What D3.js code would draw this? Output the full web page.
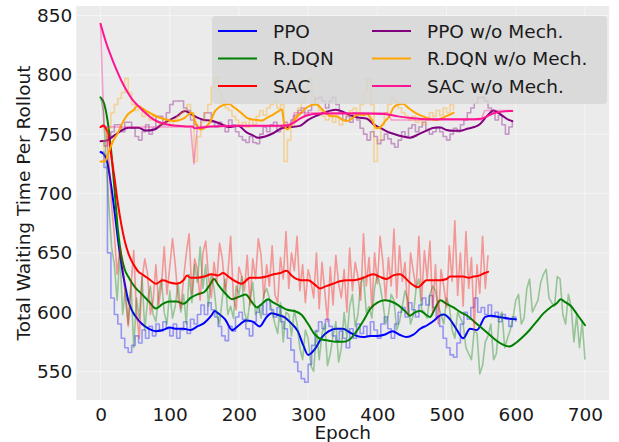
<!DOCTYPE html>
<html>
<head>
<meta charset="utf-8">
<script src="https://cdn.jsdelivr.net/npm/d3@7"></script>
<style>
  body { margin: 0; background: #fff; }
  svg { display: block; }
  text { font-family: "DejaVu Sans", sans-serif; fill: #1a1a1a; }
</style>
</head>
<body>
<svg id="chart" width="619" height="442"></svg>
<script>
// ---- tick labels ----
const xTicks = [0, 100, 200, 300, 400, 500, 600, 700];
const yTicks = [550, 600, 650, 700, 750, 800, 850];

// ---- raw per-epoch curves (sampled every rawStep epochs from epoch 0) ----
const ppoRawStep = 5;
const ppoRaw = [735,722,650,612,598,590,578,570,566,572,580,574,585,578,588,580,590,584,592,586,
  580,590,578,585,592,582,594,590,598,606,598,608,602,596,588,580,576,588,584,596,
  600,594,586,580,592,600,606,598,610,602,596,604,592,586,578,568,558,550,544,541,
  556,572,584,592,586,594,588,580,576,584,578,570,586,578,590,582,588,580,592,585,
  578,590,596,586,578,590,600,604,596,608,602,596,606,612,606,614,604,596,588,578,
  570,564,562,574,590,600,594,604,612,600,604,598,606,596,600,592,598,594,588,596,592];

const rdqnRawStep = 4;
const rdqnRaw = [781,770,730,690,655,640,610,650,598,620,
  590,625,570,612,595,630,585,610,622,598,
  592,615,628,600,590,618,595,605,625,600,
  615,590,632,608,640,625,655,620,640,605,
  632,620,598,590,612,628,598,605,595,622,
  615,630,600,592,610,625,598,605,595,615,
  620,612,600,590,582,608,575,600,598,580,
  602,590,570,560,585,578,555,550,585,560,
  582,590,555,565,580,592,558,570,600,578,
  605,615,588,598,625,630,600,605,595,620,
  632,622,608,590,598,615,610,585,592,605,
  618,610,590,598,620,628,602,600,595,615,
  622,618,605,598,590,612,605,585,578,600,
  595,590,570,565,560,585,582,548,555,575,
  580,590,560,565,595,600,570,578,585,595,
  610,615,590,595,620,628,600,605,610,625,
  632,636,612,608,605,630,628,598,590,615,
  605,575,598,570,592,560];

const sacRawStep = 4;
const sacRaw = [757,758,752,728,690,665,632,655,640,612,
  588,622,652,600,578,628,645,632,598,610,
  640,606,622,655,615,638,662,640,612,603,
  628,650,666,615,645,636,610,650,660,630,
  612,642,625,658,645,618,632,664,612,602,
  638,630,618,648,606,645,628,662,648,612,
  640,622,656,615,608,646,628,668,620,650,
  635,664,618,640,608,636,626,612,650,603,
  642,618,592,638,606,648,624,612,636,600,
  654,618,642,630,610,666,622,646,604,650,
  624,664,642,610,646,622,670,612,656,626,
  642,598,650,634,620,664,610,652,628,660,
  600,640,590,636,622,604,656,626,677,614,
  650,605,668,620,646,585,640,616,664,620,
  648];

const ppoWoRawStep = 5;
const ppoWoRaw = [744,740,748,752,758,758,752,760,760,755,748,745,752,758,750,755,765,765,758,768,
  775,778,778,778,772,770,762,758,755,762,768,768,760,756,760,758,752,762,758,752,
  748,745,743,748,743,742,750,756,752,758,760,752,756,760,758,762,766,770,772,766,
  770,775,780,781,778,772,778,781,775,768,762,765,760,768,762,755,750,745,752,748,
  742,745,750,746,742,739,745,752,748,755,758,752,756,760,754,750,752,756,752,748,
  745,750,755,752,758,762,768,772,776,781,781,778,772,768,762,766,758,750,756,762];

const rdqnWoRawStep = 5;
const rdqnWoRaw = [727,745,755,768,775,780,785,797,785,775,770,772,765,768,762,765,760,758,760,762,
  758,762,765,768,770,775,768,727,748,760,768,775,790,798,785,778,772,770,765,762,
  758,760,756,762,758,765,770,766,772,775,778,772,775,727,745,758,765,772,778,785,
  797,782,775,770,765,762,766,760,764,758,762,766,770,772,768,775,785,797,775,727,
  745,758,768,775,780,778,772,768,765,762,765,760,762,758,762,768,765,770,766,772,
  768,775,770];

const sacWoRawStep = 5;
const sacWoRaw = [843,756,756,756,756,756,756,756,756,756,756,756,756,756,756,756,756,756,756,756,
  756,756,756,756,756,756,756,725,756.5,756.5,756.5,756.5,756.5,756.5,756.5,756.5,756.5,756.5,756.5,756.5,
  756.5,756.5,756.5,756.5,756.5,756.5,756.5,756.5,756.5,756.5,756.5,756.5,756.5,756.5,756.5,756.5,768,768,768,768,
  768,768,768,768,768,768,768,768,768,768,768,768,768,768,768,768,768,768,768,768,
  768,768,768,768,762,762,762,762,762,762,762,762,762,762,762,762,762,762,762,762,
  762,762,762,762,762,762,762,762,762,762,762,770,770,770,770,770,770,770,770,770];

// ---- smoothed curves, [epoch, value] ----
const ppoSmooth = [[0,735],[5,733],[10,726],[15,708],[20,686],[25,662],[30,641],[35,624],[40,610],[45,602],
  [50,597],[60,590],[70,586],[80,584],[90,585],[100,587],[110,586],[120,586],[130,585],[140,588],
  [150,591],[160,597],[165,601],[170,599],[180,594],[190,585],[200,589],[210,593],[220,592],[230,588],
  [240,596],[247,599],[255,598],[265,596],[275,591],[285,584],[293,572],[300,564],[310,569],[320,579],
  [330,584],[340,586],[350,586],[360,583],[370,580],[380,579],[390,580],[400,580],[410,581],[422,584],
  [432,581],[442,579],[452,581],[462,586],[472,589],[482,593],[490,597],[496,598],[505,594],[515,585],
  [524,578],[534,586],[544,585],[556,596],[565,597],[575,596],[585,595],[600,594]];

const rdqnSmooth = [[0,781],[5,776],[10,762],[15,738],[20,705],[25,670],[30,648],[35,636],[40,630],[45,625],
  [50,621],[60,615],[70,609],[80,603],[90,607],[100,609],[110,609],[120,607],[130,612],[140,615],
  [150,617],[158,623],[164,628],[170,623],[180,616],[190,611],[200,613],[210,615],[218,609],[226,604],
  [235,608],[242,611],[250,608],[260,605],[270,602],[280,601],[290,598],[300,590],[310,581],[320,577],
  [330,576],[340,575],[350,575],[360,577],[370,584],[380,593],[390,603],[400,608],[410,610],[420,609],
  [430,606],[440,601],[447,597],[455,600],[462,601],[470,598],[476,596],[484,604],[491,610],[500,607],
  [510,604],[520,600],[530,597],[540,592],[550,587],[560,582],[570,577],[580,573],[590,571],[600,574],
  [610,579],[620,585],[630,592],[640,599],[650,604],[660,608],[665,611],[670,609],[680,605],[690,597],[700,589]];

const sacSmooth = [[0,756],[5,757],[8,755],[12,748],[16,730],[20,714],[25,692],[30,674],[35,660],[40,650],
  [45,643],[50,638],[55,634],[60,632],[70,628],[80,624],[90,627],[100,625],[110,624],[120,627],
  [125,631],[130,629],[140,629],[150,630],[160,632],[170,631],[177,633],[185,630],[192,627],[204,624],
  [216,629],[230,629],[240,630],[250,632],[260,633],[269,635],[276,631],[283,628],[290,627],[300,627],
  [310,623],[317,620],[326,622],[336,624],[346,626],[356,627],[366,627],[380,629],[394,632],[403,630],
  [413,628],[423,631],[433,632],[440,629],[447,625],[459,621],[465,624],[471,627],[480,627],[491,627],
  [500,628],[505,630],[515,630],[524,630],[532,629],[539,630],[548,631],[555,633],[560,634]];

const ppoWoSmooth = [[0,744],[10,745],[20,749],[30,753],[40,755.5],[55,755.5],[65,753],[78,754],[88,758],[100,762],
  [110,765],[122,769.5],[131,767],[140,764],[150,762],[160,761.5],[172,759],[185,756],[199,757],[210,752],
  [220,749],[228,747],[238,748],[250,751],[262,755],[274,756],[288,757],[300,762],[312,765.5],[325,768.5],
  [340,770.5],[350,769],[360,766],[372,764],[385,763],[395,758],[405,755],[415,752],[425,750],[437,748],
  [447,747],[460,750],[471,753],[482,755.5],[491,755.6],[500,753.5],[510,752.8],[520,752.8],[530,754.5],[540,756],
  [548,758.4],[558,765],[568,770],[575,768],[582,765],[590,762],[595,761]];

const rdqnWoSmooth = [[0,727],[6,727],[12,735],[18,744],[25,751],[33,761],[40,767],[47,770],[54,774],[60,772],
  [66,769.6],[74,767],[81,765],[93,762.5],[107,761],[115,762],[122,764],[128,767],[132,768],[136,762],
  [140,756],[146,754],[152,756],[158,760],[165,769],[172,773],[180,775],[186,775.5],[192,773],[199,770],
  [205,767],[211,764],[218,762.5],[226,762],[233,761.5],[240,763.5],[248,766],[255,768.5],[262,771],[265,760],
  [270,754],[276,758],[283,764],[290,768],[297,772],[303,774],[308,775],[312,775],[320,771],[327,767],
  [335,765],[341,765],[350,762],[356,761],[365,764],[372,766.5],[380,766],[385,767],[392,762],[399,755],
  [404,755.6],[410,760],[418,766],[423,772],[430,775],[437,775.7],[445,772],[455,768],[466,765],[476,763],
  [486,762],[495,764],[503,766],[510,768]];

const sacWoSmooth = [[0,843],[5,833],[10,823.8],[15,816],[20,808.5],[25,801.6],[30,795.2],[35,789.5],[40,784.5],[45,780],
  [50,776.5],[57,772.4],[65,767.8],[76,762.6],[85,760],[95,758.4],[110,757],[125,756.5],[133,756.4],[136,755],
  [145,755.5],[160,756.5],[200,757],[250,757],[270,757.5],[280,760],[288,763],[297,765.5],[307,767],[320,767.5],
  [340,767.5],[380,767.5],[410,767],[430,765],[452,763.5],[471,762.6],[500,762.5],[530,762.5],[550,763],[558,765],
  [568,767.5],[580,769],[595,769.6]];

// ---- series table: names, colours, data ----
const seriesNames = ["PPO", "R.DQN", "SAC", "PPO w/o Mech.", "R.DQN w/o Mech.", "SAC w/o Mech."];
const seriesColors = ["#0000ff", "#008000", "#ff0000", "#800080", "#ffa500", "#ff1493"];
const series = [
  { raw: ppoRaw, step: ppoRawStep, smooth: ppoSmooth, stepped: true },
  { raw: rdqnRaw, step: rdqnRawStep, smooth: rdqnSmooth, stepped: false },
  { raw: sacRaw, step: sacRawStep, smooth: sacSmooth, stepped: false },
  { raw: ppoWoRaw, step: ppoWoRawStep, smooth: ppoWoSmooth, stepped: true },
  { raw: rdqnWoRaw, step: rdqnWoRawStep, smooth: rdqnWoSmooth, stepped: true },
  { raw: sacWoRaw, step: sacWoRawStep, smooth: sacWoSmooth, stepped: false }
].map((s, i) => ({ ...s, name: seriesNames[i], color: seriesColors[i] }));

// ---- layout ----
const plot = { left: 76.3, right: 609.2, top: 6, bottom: 400 };
const fontSize = 18.5;

const svg = d3.select("#chart");
const x = d3.scaleLinear().domain([-35, 735]).range([plot.left, plot.right]);
const y = d3.scaleLinear().domain([526, 858]).range([plot.bottom, plot.top]);

// plot background
svg.append("rect")
  .attr("x", plot.left).attr("y", plot.top)
  .attr("width", plot.right - plot.left).attr("height", plot.bottom - plot.top)
  .attr("fill", "#ebebeb");

// grid
const grid = svg.append("g").attr("stroke", "#ffffff").attr("stroke-opacity", 0.45).attr("stroke-width", 1);
grid.selectAll("line.gx").data(xTicks).join("line")
  .attr("x1", d => x(d)).attr("x2", d => x(d))
  .attr("y1", plot.top).attr("y2", plot.bottom);
grid.selectAll("line.gy").data(yTicks).join("line")
  .attr("x1", plot.left).attr("x2", plot.right)
  .attr("y1", d => y(d)).attr("y2", d => y(d));

// axes
const xAxis = svg.append("g")
  .attr("transform", `translate(0,${plot.bottom})`)
  .call(d3.axisBottom(x).tickValues(xTicks).tickSize(0).tickPadding(8).tickFormat(d3.format("d")));
const yAxis = svg.append("g")
  .attr("transform", `translate(${plot.left},0)`)
  .call(d3.axisLeft(y).tickValues(yTicks).tickSize(0).tickPadding(4).tickFormat(d3.format("d")));
[xAxis, yAxis].forEach(g => {
  g.select(".domain").remove();
  g.selectAll("text").attr("font-size", fontSize).attr("font-family", "DejaVu Sans, sans-serif").attr("fill", "#1a1a1a");
});

// axis titles
svg.append("text")
  .attr("x", (plot.left + plot.right) / 2).attr("y", 438.5)
  .attr("text-anchor", "middle").attr("font-size", fontSize)
  .text("Epoch");
svg.append("text")
  .attr("transform", `translate(30,${(plot.top + plot.bottom) / 2}) rotate(-90)`)
  .attr("text-anchor", "middle").attr("font-size", fontSize)
  .text("Total Waiting Time Per Rollout");

// curves: faint raw trace first, then its smoothed line, series by series
const clip = svg.append("clipPath").attr("id", "plot-clip").append("rect")
  .attr("x", plot.left).attr("y", plot.top)
  .attr("width", plot.right - plot.left).attr("height", plot.bottom - plot.top);
const lines = svg.append("g").attr("clip-path", "url(#plot-clip)").attr("fill", "none");

series.forEach(s => {
  const rawLine = d3.line()
    .x((d, i) => x(i * s.step))
    .y(d => y(d))
    .curve(s.stepped ? d3.curveStepAfter : d3.curveLinear);
  lines.append("path")
    .attr("d", rawLine(s.raw))
    .attr("stroke", s.color).attr("stroke-opacity", 0.36)
    .attr("stroke-width", 1.6).attr("stroke-linejoin", "round");

  const smoothLine = d3.line()
    .x(d => x(d[0])).y(d => y(d[1]))
    .curve(d3.curveMonotoneX);
  lines.append("path")
    .attr("d", smoothLine(s.smooth))
    .attr("stroke", s.color).attr("stroke-width", 2)
    .attr("stroke-linejoin", "round").attr("stroke-linecap", "round");
});

// legend
const legend = svg.append("g");
legend.append("rect")
  .attr("x", 212).attr("y", 16).attr("width", 395).attr("height", 88).attr("rx", 4)
  .attr("fill", "#d6d6d6").attr("fill-opacity", 0.8);
const colX = [218, 372];
const rowY = [31, 58.5, 86];
series.forEach((s, i) => {
  const cx = colX[Math.floor(i / 3)], cy = rowY[i % 3];
  legend.append("line")
    .attr("x1", cx).attr("x2", cx + 39).attr("y1", cy).attr("y2", cy)
    .attr("stroke", s.color).attr("stroke-width", 2);
  legend.append("text")
    .attr("x", cx + 55).attr("y", cy + 6.5)
    .attr("font-size", fontSize)
    .text(s.name);
});
</script>
</body>
</html>
